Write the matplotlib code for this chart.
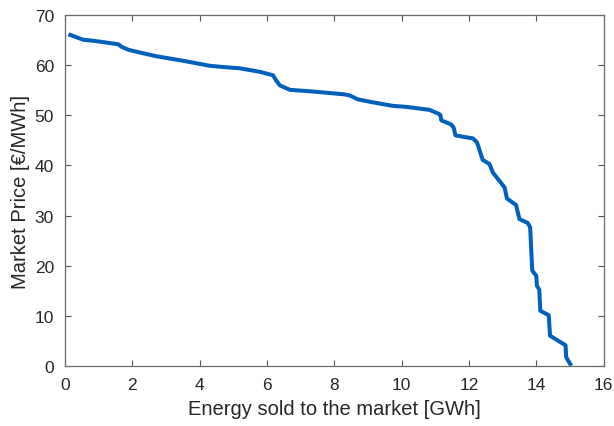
import numpy as np
from matplotlib import pyplot as plt

# merit-order curve: cumulative energy sold vs clearing price
energy_gwh = [0.10, 0.54, 0.84, 1.58, 1.68, 1.88, 2.32, 2.72, 3.51, 3.91, 4.30,
              4.80, 5.19, 5.79, 6.18, 6.28, 6.38, 6.68, 7.30, 8.30, 8.45, 8.70,
              9.15, 9.74, 10.14, 10.83, 11.11, 11.15, 11.18, 11.47, 11.55, 11.60,
              12.12, 12.24, 12.41, 12.61, 12.71, 13.06, 13.13, 13.40, 13.50,
              13.75, 13.82, 13.88, 14.00, 14.02, 14.09, 14.12, 14.37, 14.41,
              14.87, 14.89, 15.04]
price_eur = [66.2, 65.1, 64.9, 64.2, 63.7, 63.1, 62.4, 61.8, 60.9, 60.4, 59.9,
             59.6, 59.4, 58.7, 58.0, 56.9, 56.0, 55.1, 54.8, 54.2, 54.0, 53.2,
             52.6, 51.9, 51.7, 51.1, 50.3, 50.1, 49.0, 48.2, 47.5, 46.0,
             45.4, 44.6, 41.1, 40.3, 38.6, 35.6, 33.4, 32.1, 29.3,
             28.5, 27.6, 19.0, 18.0, 16.0, 15.2, 11.0, 10.1, 6.0,
             4.1, 1.7, 0.0]

x_ticks = np.arange(0, 17, 2)
y_ticks = np.arange(0, 71, 10)

plt.rcParams['font.family'] = ['Liberation Sans', 'DejaVu Sans']

fig = plt.figure(figsize=(6.14, 4.27), dpi=100)
ax = fig.add_axes([0.106, 0.141, 0.877, 0.821])

ax.plot(energy_gwh, price_eur, color='#0061bd', linewidth=2.9,
        solid_joinstyle='round', solid_capstyle='butt')

ax.set_xlim(0, 16)
ax.set_ylim(0, 70)
ax.set_xticks(x_ticks)
ax.set_yticks(y_ticks)
ax.tick_params(direction='in', top=True, right=True, length=4,
               width=0.8, color='#555555', labelsize=12.5,
               labelcolor='#262626')
ax.tick_params(axis='x', pad=8)
ax.tick_params(axis='y', pad=8)
for s in ax.spines.values():
    s.set_color('#6b6b6b')
    s.set_linewidth(0.9)

ax.set_xlabel('Energy sold to the market [GWh]', fontsize=14.5,
              color='#262626', labelpad=5)
ax.set_ylabel('Market Price [€/MWh]', fontsize=14.5, color='#262626',
              labelpad=3)

fig.savefig('out.png', dpi=100)
